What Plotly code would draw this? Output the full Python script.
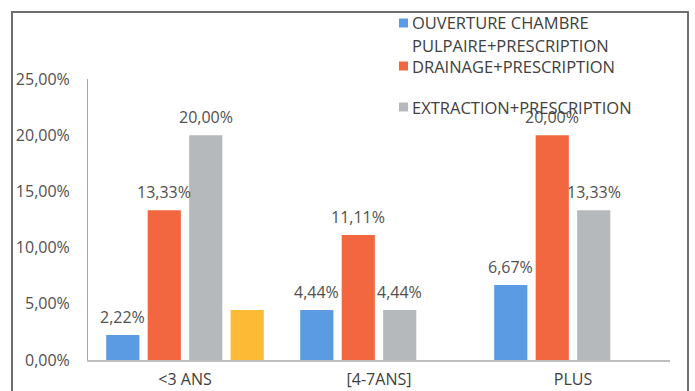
import plotly.graph_objects as go

# Data
categories = ["<3 ANS", "[4-7ANS]", "PLUS"]
series_names = [
    "OUVERTURE CHAMBRE<br>PULPAIRE+PRESCRIPTION",
    "DRAINAGE+PRESCRIPTION",
    "EXTRACTION+PRESCRIPTION",
    "AUTRE",
]
ouverture = [2.22, 4.44, 6.67]
drainage = [13.33, 11.11, 20.00]
extraction = [20.00, 4.44, 13.33]
autre = [4.44, 0, 0]
labelled = [True, True, True, False]
y_ticks = [0, 5, 10, 15, 20, 25]

series_values = [ouverture, drainage, extraction, autre]
colors = ["#5b9be3", "#f2673f", "#b5b9bc", "#fbbb35"]

W, H = 695, 391
ML, MR, MT, MB = 88, 25, 79, 31
PW, PH = W - ML - MR, H - MT - MB
BARGAP = 0.145
BARGROUPGAP = 0.2
FONT = "Open Sans"
TXT = "#505050"
LEG_SIZE = 16.5


def px(x, y):
    """Pixel position -> paper coordinates."""
    return (x - ML) / PW, 1 - (y - MT) / PH


def fmt(v):
    return f"{v:.2f}".replace(".", ",") + "%"


fig = go.Figure()
for name, vals, col in zip(series_names, series_values, colors):
    fig.add_trace(go.Bar(
        x=categories, y=vals, name=name, marker=dict(color=col, line=dict(width=0)),
        showlegend=False,
    ))

annotations = []
n = len(series_values)
slot = (1 - BARGAP) / n
for j, (vals, show) in enumerate(zip(series_values, labelled)):
    if not show:
        continue
    for i, v in enumerate(vals):
        annotations.append(dict(
            x=i + (j - (n - 1) / 2) * slot, y=v, xref="x", yref="y",
            text=fmt(v), showarrow=False, yshift=18,
            font=dict(family=FONT, size=16, color=TXT),
        ))

# Legend block: text blocks (center y, lines) and swatches (center y, series)
legend_text = [
    (23, ["OUVERTURE CHAMBRE"]),
    (56.5, ["PULPAIRE+PRESCRIPTION", "DRAINAGE+PRESCRIPTION"]),
    (107, ["EXTRACTION+PRESCRIPTION"]),
]
legend_swatch = [(23, 0), (66, 1), (107, 2)]
shapes = []
for yc, lines in legend_text:
    tx, ty = px(411, yc)
    annotations.append(dict(
        x=tx, y=ty, xref="paper", yref="paper", text="<br>".join(lines),
        showarrow=False, xanchor="left", yanchor="middle", align="left",
        borderpad=0, font=dict(family=FONT, size=LEG_SIZE, color="#404040"),
    ))
for yc, idx in legend_swatch:
    x0, y0 = px(399, yc + 4.5)
    x1, y1 = px(408, yc - 4.5)
    shapes.append(dict(type="rect", xref="paper", yref="paper",
                       x0=x0, y0=y0, x1=x1, y1=y1,
                       fillcolor=colors[idx], line=dict(width=0)))

# Outer frame (bottom edge runs past the page)
fx0, fy0 = px(12, 420)
fx1, fy1 = px(688, 12)
shapes.append(dict(type="rect", xref="paper", yref="paper",
                   x0=fx0, y0=fy0, x1=fx1, y1=fy1,
                   line=dict(color="#6f6f6f", width=2), fillcolor="rgba(0,0,0,0)"))

fig.update_layout(
    width=W, height=H,
    margin=dict(l=ML, r=MR, t=MT, b=MB, pad=0, autoexpand=False),
    paper_bgcolor="white", plot_bgcolor="white",
    separators=", ",
    barmode="group", bargap=BARGAP, bargroupgap=BARGROUPGAP,
    annotations=annotations, shapes=shapes,
    font=dict(family=FONT, color=TXT),
)
fig.update_xaxes(
    showgrid=False, showline=True, linecolor="#bfbfbf", linewidth=1.5,
    tickfont=dict(family=FONT, size=16, color="#404040"),
    ticks="", ticklabelstandoff=4, automargin=False,
)
fig.update_yaxes(
    range=[0, 25], tickvals=y_ticks, ticktext=[fmt(v) for v in y_ticks],
    showgrid=False, zeroline=False, showline=True, linecolor="#a6a6a6", linewidth=1,
    tickfont=dict(family=FONT, size=16, color=TXT),
    ticks="", ticklabelstandoff=14, automargin=False,
)

fig.write_html("out.html")
